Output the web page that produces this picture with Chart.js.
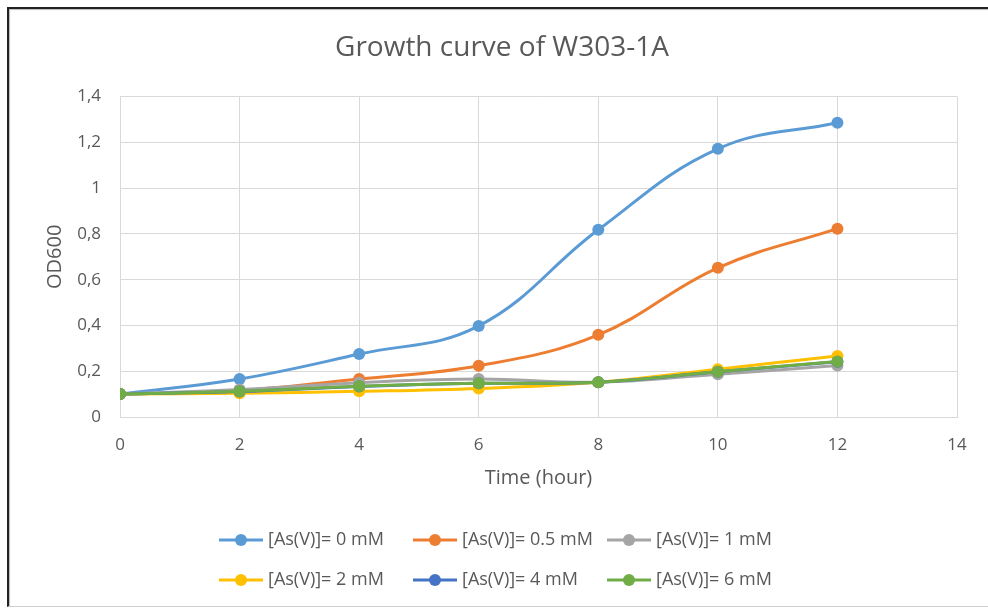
<!DOCTYPE html>
<html>
<head>
<meta charset="utf-8">
<script src="https://cdn.jsdelivr.net/npm/chart.js@4.4.1/dist/chart.umd.min.js"></script>
<style>
    html, body { margin: 0; padding: 0; background: #fff; }
    #wrap { position: relative; width: 988px; height: 608px; overflow: hidden; }
    #frame {
        position: absolute; left: 7px; top: 7px; right: -4px; bottom: 1px;
        border-top: 2px solid #222; border-left: 2px solid #222; border-bottom: 1px solid #cfcfcf;
        box-shadow: inset 1px 1px 1px #bbb;
    }
    #growth { position: absolute; left: 0; top: 0; }
</style>
</head>
<body>
<div id="wrap">
    <div id="frame"></div>
    <canvas id="growth" width="988" height="608"></canvas>
</div>
<script>
// Время (ч) и OD600 для каждой концентрации As(V)
const hours = [0, 2, 4, 6, 8, 10, 12];
const od_0mM = [0.100, 0.166, 0.275, 0.398, 0.818, 1.172, 1.286];
const od_05mM = [0.100, 0.116, 0.166, 0.224, 0.359, 0.652, 0.823];
const od_1mM = [0.100, 0.120, 0.150, 0.166, 0.152, 0.187, 0.225];
const od_2mM = [0.100, 0.104, 0.112, 0.125, 0.152, 0.209, 0.267];
const od_4mM = [0.100, 0.111, 0.133, 0.147, 0.152, 0.198, 0.241];
const od_6mM = [0.100, 0.112, 0.134, 0.147, 0.152, 0.198, 0.242];

const seriesLabels = ['[As(V)]= 0 mM', '[As(V)]= 0.5 mM', '[As(V)]= 1 mM',
                      '[As(V)]= 2 mM', '[As(V)]= 4 mM', '[As(V)]= 6 mM'];
const seriesColors = ['#5B9BD5', '#ED7D31', '#A5A5A5', '#FFC000', '#4472C4', '#70AD47'];
const seriesValues = [od_0mM, od_05mM, od_1mM, od_2mM, od_4mM, od_6mM];

const xTicks = [0, 2, 4, 6, 8, 10, 12, 14];
const yTicks = [0, 0.2, 0.4, 0.6, 0.8, 1, 1.2, 1.4];

const FONT = "'Open Sans', sans-serif";
const TEXT = '#595959';
const GRID = '#d9d9d9';

// Легенда в две строки по три элемента, как в Excel
const excelLegend = {
    id: 'excelLegend',
    afterDraw(chart) {
        const ctx = chart.ctx;
        ctx.save();
        ctx.font = '18px ' + FONT;
        ctx.textBaseline = 'middle';
        chart.data.datasets.forEach((ds, i) => {
            const col = i % 3;
            const row = Math.floor(i / 3);
            const x = 219 + col * 194;
            const y = 540 + row * 40;
            ctx.strokeStyle = ds.borderColor;
            ctx.lineWidth = 3;
            ctx.beginPath();
            ctx.moveTo(x, y);
            ctx.lineTo(x + 44, y);
            ctx.stroke();
            ctx.fillStyle = ds.borderColor;
            ctx.beginPath();
            ctx.arc(x + 22, y, 6, 0, Math.PI * 2);
            ctx.fill();
            ctx.fillStyle = TEXT;
            ctx.fillText(ds.label, x + 49, y);
        });
        ctx.restore();
    }
};

const ctx = document.getElementById('growth').getContext('2d');
new Chart(ctx, {
    type: 'line',
    data: {
        datasets: seriesValues.map((vals, i) => ({
            label: seriesLabels[i],
            data: hours.map((h, j) => ({ x: h, y: vals[j] })),
            borderColor: seriesColors[i],
            backgroundColor: seriesColors[i],
            pointBackgroundColor: seriesColors[i],
            pointBorderWidth: 0,
            pointRadius: 6,
            borderWidth: 3,
            tension: 0.4,
            fill: false,
            order: seriesValues.length - i
        }))
    },
    options: {
        responsive: false,
        animation: false,
        layout: { padding: { left: 47, right: 31, top: 0, bottom: 101 } },
        plugins: {
            legend: { display: false },
            tooltip: { enabled: false },
            title: {
                display: true,
                text: 'Growth curve of W303-1A',
                color: TEXT,
                font: { family: FONT, size: 28, weight: 'normal' },
                padding: { top: 31, bottom: 32 }
            }
        },
        scales: {
            x: {
                type: 'linear',
                min: 0,
                max: 14,
                afterBuildTicks: s => { s.ticks = xTicks.map(v => ({ value: v })); },
                afterFit: s => { s.height = 90; },
                grid: { color: GRID, drawTicks: false },
                border: { color: GRID },
                ticks: { color: TEXT, padding: 18, font: { family: FONT, size: 17 } },
                title: {
                    display: true,
                    text: 'Time (hour)',
                    color: TEXT,
                    font: { family: FONT, size: 20 },
                    padding: { top: 0, bottom: 17 }
                }
            },
            y: {
                min: 0,
                max: 1.4,
                afterBuildTicks: s => { s.ticks = yTicks.map(v => ({ value: v })); },
                afterFit: s => { s.width = 73; },
                grid: { color: GRID, drawTicks: false },
                border: { display: false },
                ticks: {
                    color: TEXT,
                    padding: 19,
                    font: { family: FONT, size: 17 },
                    callback: v => String(Number(v.toFixed(1))).replace('.', ',')
                },
                title: {
                    display: true,
                    text: 'OD600',
                    color: TEXT,
                    font: { family: FONT, size: 20 },
                    padding: { top: -4, bottom: 0 }
                }
            }
        }
    },
    plugins: [excelLegend]
});
</script>
</body>
</html>
